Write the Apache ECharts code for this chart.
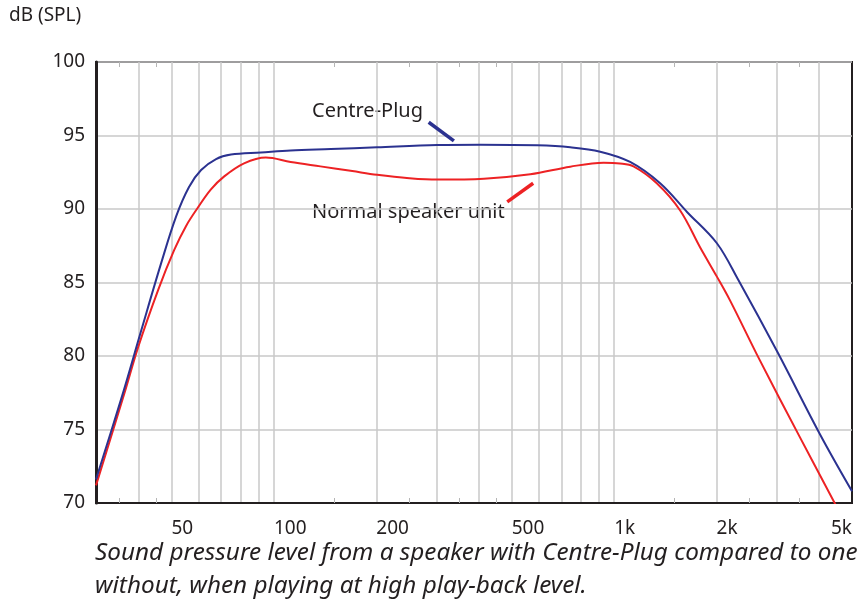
<!DOCTYPE html>
<html>
<head>
<meta charset="utf-8">
<script src="https://cdn.jsdelivr.net/npm/echarts@6/dist/echarts.min.js"></script>
<style>
  html, body { margin: 0; padding: 0; background: #fff; }
  #chart { width: 868px; height: 604px; }
</style>
</head>
<body>
<div id="chart"></div>
<script>
// frequency (Hz) / level (dB SPL)
const plugFreq = [30, 35.6, 40.7, 46.6, 51.6, 56.3, 61.1, 67.6, 74.8, 91.6, 112, 147, 201, 302, 404, 594, 743, 910, 1114, 1365, 1637, 2004, 2313, 3030, 4021, 5000];
const plugDb = [71.6, 77.1, 81.7, 86.3, 89.5, 91.5, 92.65, 93.4, 93.7, 93.84, 93.98, 94.08, 94.2, 94.35, 94.37, 94.33, 94.2, 93.9, 93.2, 91.75, 89.8, 87.67, 85.2, 80.2, 74.7, 70.8];

const normalFreq = [30, 36.4, 39.9, 45.7, 50.9, 55.2, 59.8, 65.3, 71.3, 81.7, 94.7, 112, 137, 170, 201, 250, 302, 414, 567, 743, 931, 1040, 1140, 1334, 1563, 1788, 2004, 2188, 2681, 3510, 4540];
const normalDb = [71.2, 77.5, 80.6, 84.5, 87.2, 88.85, 90.1, 91.33, 92.2, 93.1, 93.5, 93.2, 92.9, 92.58, 92.33, 92.1, 92.0, 92.06, 92.36, 92.88, 93.15, 93.1, 92.9, 91.75, 89.9, 87.4, 85.4, 83.8, 79.7, 74.5, 69.6];

const gridFreq = [40, 50, 60, 70, 80, 90, 100, 200, 300, 400, 500, 600, 700, 800, 900, 1000, 2000, 3000, 4000];
const labelFreq = [50, 100, 200, 500, 1000, 2000, 5000];
const minorFreq = [35, 45, 150, 250, 350, 450, 1500, 2500, 3500];

const font = 'Noto Sans';
const textColor = '#231f20';

const zip = (xs, ys) => xs.map((x, i) => [x, ys[i]]);

const chart = echarts.init(document.getElementById('chart'));

const tickAxis = (position) => ({
  type: 'log',
  logBase: 10,
  min: 30,
  max: 5000,
  position: position,
  axisLine: { show: false },
  axisLabel: { show: false },
  splitLine: { show: false },
  axisTick: {
    show: true,
    inside: true,
    length: 5,
    customValues: minorFreq,
    lineStyle: { color: '#b5b5b5', width: 1 },
  },
});

var option = {
  animation: false,
  grid: {
    left: 96,
    right: 16,
    top: 62,
    bottom: 101,
    show: true,
    borderColor: '#231f20',
    borderWidth: 2,
  },
  xAxis: [
    {
      type: 'log',
      logBase: 10,
      min: 30,
      max: 5000,
      position: 'bottom',
      axisLine: { lineStyle: { color: '#231f20', width: 2 } },
      axisTick: { show: false, customValues: gridFreq },
      splitLine: { show: true, lineStyle: { color: '#c8c8c8', width: 1.5 } },
      axisLabel: {
        customValues: labelFreq,
        align: 'left',
        alignMaxLabel: 'right',
        margin: 16,
        color: textColor,
        fontFamily: font,
        fontSize: 19,
        formatter: (v) => (v >= 1000 ? v / 1000 + 'k' : String(v)),
      },
    },
    tickAxis('bottom'),
    tickAxis('top'),
  ],
  yAxis: {
    type: 'value',
    min: 70,
    max: 100,
    interval: 5,
    axisLine: { show: true, lineStyle: { color: '#231f20', width: 3 } },
    axisTick: { show: false },
    splitLine: { lineStyle: { color: '#c8c8c8', width: 1.5 } },
    axisLabel: {
      color: textColor,
      fontFamily: font,
      fontSize: 19,
      margin: 11,
    },
  },
  graphic: [
    {
      type: 'text',
      left: 9,
      top: 6,
      style: { text: 'dB (SPL)', fill: textColor, font: '19px "Noto Sans"' },
    },
    {
      type: 'text',
      left: 312,
      top: 101,
      style: { text: 'Centre-Plug', fill: textColor, font: '20px "Noto Sans"' },
    },
    {
      type: 'text',
      left: 312,
      top: 202,
      style: { text: 'Normal speaker unit', fill: textColor, font: '20px "Noto Sans"' },
    },
    {
      type: 'text',
      left: 95,
      top: 537,
      style: {
        text: 'Sound pressure level from a speaker with Centre-Plug compared to one\nwithout, when playing at high play-back level.',
        fill: textColor,
        font: 'italic 24.3px "Noto Sans"',
        lineHeight: 33,
      },
    },
  ],
  series: [
    {
      name: 'Normal speaker unit',
      type: 'line',
      data: zip(normalFreq, normalDb),
      smooth: 0.35,
      showSymbol: false,
      clip: true,
      lineStyle: { color: '#ed2224', width: 2 },
      markLine: {
        silent: true,
        symbol: 'none',
        lineStyle: { color: '#ed2224', width: 3.5, type: 'solid' },
        label: { show: false },
        data: [[{ coord: [485, 90.48] }, { coord: [578, 91.75] }]],
      },
    },
    {
      name: 'Centre-Plug',
      type: 'line',
      data: zip(plugFreq, plugDb),
      smooth: 0.35,
      showSymbol: false,
      clip: true,
      lineStyle: { color: '#2b3290', width: 2 },
      markLine: {
        silent: true,
        symbol: 'none',
        lineStyle: { color: '#2b3290', width: 3.5, type: 'solid' },
        label: { show: false },
        data: [[{ coord: [285, 95.9] }, { coord: [338, 94.63] }]],
      },
    },
  ],
};

chart.setOption(option);
</script>
</body>
</html>
